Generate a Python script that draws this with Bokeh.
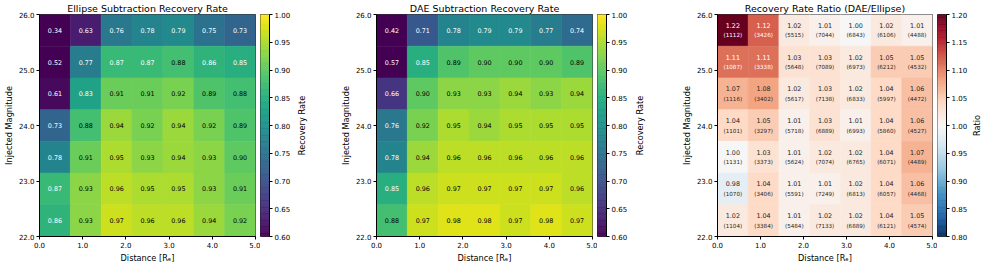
import numpy as np
from bokeh.plotting import figure
from bokeh.models import (ColumnDataSource, LinearColorMapper, FixedTicker,
                          PrintfTickFormatter, Range1d)
from bokeh.layouts import row
from bokeh.embed import file_html
from bokeh.resources import INLINE
from bokeh.palettes import Viridis256
from bokeh.core.properties import value
from bokeh.transform import transform

FONT = "DejaVu Sans"

# ---------------- data ----------------
distance_ticks = [0.0, 1.0, 2.0, 3.0, 4.0, 5.0]
magnitude_ticks = [22.0, 23.0, 24.0, 25.0, 26.0]
dist_range = (0.0, 5.0)
mag_range = (22.0, 26.0)

# rows listed from the top of the chart (faint, 26) to the bottom (bright, 22)
ellipse_rate = [
    [0.34, 0.63, 0.76, 0.78, 0.79, 0.75, 0.73],
    [0.52, 0.77, 0.87, 0.87, 0.88, 0.86, 0.85],
    [0.61, 0.83, 0.91, 0.91, 0.92, 0.89, 0.88],
    [0.73, 0.88, 0.94, 0.92, 0.94, 0.92, 0.89],
    [0.78, 0.91, 0.95, 0.93, 0.94, 0.93, 0.90],
    [0.87, 0.93, 0.96, 0.95, 0.95, 0.93, 0.91],
    [0.86, 0.93, 0.97, 0.96, 0.96, 0.94, 0.92],
]
dae_rate = [
    [0.42, 0.71, 0.78, 0.79, 0.79, 0.77, 0.74],
    [0.57, 0.85, 0.89, 0.90, 0.90, 0.90, 0.89],
    [0.66, 0.90, 0.93, 0.93, 0.94, 0.93, 0.94],
    [0.76, 0.92, 0.95, 0.94, 0.95, 0.95, 0.95],
    [0.78, 0.94, 0.96, 0.96, 0.96, 0.96, 0.96],
    [0.85, 0.96, 0.97, 0.97, 0.97, 0.97, 0.96],
    [0.88, 0.97, 0.98, 0.98, 0.97, 0.98, 0.97],
]
rate_ratio = [
    [1.22, 1.12, 1.02, 1.01, 1.00, 1.02, 1.01],
    [1.11, 1.11, 1.03, 1.03, 1.02, 1.05, 1.05],
    [1.07, 1.08, 1.02, 1.03, 1.02, 1.04, 1.06],
    [1.04, 1.05, 1.01, 1.03, 1.01, 1.04, 1.06],
    [1.00, 1.03, 1.01, 1.02, 1.02, 1.04, 1.07],
    [0.98, 1.04, 1.01, 1.01, 1.02, 1.04, 1.06],
    [1.02, 1.04, 1.01, 1.02, 1.02, 1.04, 1.05],
]
n_injected = [
    [1112, 3426, 5515, 7044, 6843, 6106, 4488],
    [1087, 3338, 5648, 7089, 6973, 6212, 4532],
    [1116, 3402, 5617, 7138, 6833, 5997, 4472],
    [1101, 3297, 5718, 6889, 6993, 5860, 4527],
    [1131, 3373, 5624, 7074, 6765, 6071, 4489],
    [1070, 3406, 5591, 7249, 6813, 6057, 4468],
    [1104, 3384, 5484, 7133, 6889, 6121, 4574],
]
rate_cbar_ticks = [0.60, 0.65, 0.70, 0.75, 0.80, 0.85, 0.90, 0.95, 1.00]
ratio_cbar_ticks = [0.80, 0.85, 0.90, 0.95, 1.00, 1.05, 1.10, 1.15, 1.20]
rate_limits = (0.6, 1.0)
ratio_limits = (0.8, 1.2)

# ---------------- palettes ----------------
rdbu_anchors = ["#053061", "#2166ac", "#4393c3", "#92c5de", "#d1e5f0", "#f7f7f7",
                "#fddbc7", "#f4a582", "#d6604d", "#b2182b", "#67001f"]  # RdBu_r


def interp_palette(anchors, n=256):
    rgb = np.array([[int(h[i:i + 2], 16) for i in (1, 3, 5)] for h in anchors], float)
    pos = np.linspace(0, 1, len(anchors))
    t = np.linspace(0, 1, n)
    out = []
    for tt in t:
        c = [np.interp(tt, pos, rgb[:, k]) for k in range(3)]
        out.append("#%02x%02x%02x" % tuple(int(round(v)) for v in c))
    return out


RdBu_r256 = interp_palette(rdbu_anchors)

FRAME_H = 222
LEFT = 33
GAP = 5          # frame -> colour bar
BAR_W = 11
CB_R = 22        # colour-bar tick labels
LABEL_PX = "8.2px"
TITLE_PX = "9.5px"
TICK_PX = "7px"


def style_title(p, text):
    p.title.text = text
    p.title.align = "center"
    p.title.text_font = FONT
    p.title.text_font_size = TITLE_PX
    p.title.text_font_style = "normal"
    p.title.text_color = "black"
    p.title.standoff = 1


def style_axis(ax):
    ax.axis_line_color = "black"
    ax.major_tick_line_color = "black"
    ax.minor_tick_line_color = None
    ax.major_tick_in = 0
    ax.major_tick_out = 3
    ax.major_label_text_font = FONT
    ax.major_label_text_font_size = TICK_PX
    ax.major_label_text_color = "black"
    ax.major_label_standoff = 2
    ax.axis_label_text_font = FONT
    ax.axis_label_text_font_size = LABEL_PX
    ax.axis_label_text_font_style = "normal"
    ax.axis_label_text_color = "black"
    ax.axis_label_standoff = 2


def make_panel(values, title, mapper, text_color_fn, frame_w, counts=None):
    n_rows = len(values)
    n_cols = len(values[0])
    dx = (dist_range[1] - dist_range[0]) / n_cols
    dy = (mag_range[1] - mag_range[0]) / n_rows
    xs, ys, vs, txt, cnt, col = [], [], [], [], [], []
    for j, rv in enumerate(values):
        for i, v in enumerate(rv):
            xs.append(dist_range[0] + (i + 0.5) * dx)
            ys.append(mag_range[1] - (j + 0.5) * dy)
            vs.append(v)
            txt.append("%.2f" % v)
            col.append(text_color_fn(v))
            if counts is not None:
                cnt.append("(%d)" % counts[j][i])
    data = dict(x=xs, y=ys, v=vs, t=txt, c=col)
    if counts is not None:
        data["n"] = cnt
    src = ColumnDataSource(data)

    p = figure(width=LEFT + frame_w + GAP, frame_height=FRAME_H,
               x_range=Range1d(*dist_range), y_range=Range1d(*mag_range),
               output_backend="svg", toolbar_location=None,
               min_border_left=LEFT, min_border_right=GAP,
               min_border_top=0, min_border_bottom=0)
    p.background_fill_color = "white"
    p.border_fill_color = "white"
    p.outline_line_color = "black"
    p.outline_line_width = 0.8
    p.xgrid.visible = False
    p.ygrid.visible = False

    p.rect(x="x", y="y", width=dx, height=dy, source=src,
           fill_color=transform("v", mapper), line_color=transform("v", mapper),
           line_width=0.6)

    if counts is None:
        p.text(x="x", y="y", text="t", source=src, text_color="c",
               text_font=value(FONT), text_font_size=value("6.4px"),
               text_align="center", text_baseline="middle")
    else:
        p.text(x="x", y="y", text="t", source=src, text_color="c",
               text_font=value(FONT), text_font_size=value("6.4px"),
               text_align="center", text_baseline="middle", y_offset=-5)
        p.text(x="x", y="y", text="n", source=src, text_color="c",
               text_font=value(FONT), text_font_size=value("5.6px"),
               text_align="center", text_baseline="middle", y_offset=5)

    style_title(p, title)
    for ax in (p.xaxis[0], p.yaxis[0]):
        style_axis(ax)
        ax.formatter = PrintfTickFormatter(format="%.1f")
    p.xaxis.ticker = FixedTicker(ticks=distance_ticks)
    p.yaxis.ticker = FixedTicker(ticks=magnitude_ticks)
    p.xaxis.axis_label = "Distance [Rₑ]"
    p.yaxis.axis_label = "Injected Magnitude"
    return p


def make_cbar(palette, limits, ticks):
    lo, hi = limits
    edges = np.linspace(lo, hi, len(palette) + 1)
    q = figure(width=BAR_W + CB_R, frame_height=FRAME_H,
               x_range=Range1d(0, 1), y_range=Range1d(lo, hi),
               output_backend="svg", toolbar_location=None,
               x_axis_location=None, y_axis_location="right",
               min_border_left=0, min_border_right=CB_R,
               min_border_top=0, min_border_bottom=8)
    style_title(q, " ")
    q.background_fill_color = "white"
    q.border_fill_color = "white"
    q.xgrid.visible = False
    q.ygrid.visible = False
    q.quad(left=0, right=1, bottom=edges[:-1], top=edges[1:],
           fill_color=palette, line_color=palette, line_width=0.5)
    q.outline_line_color = "black"
    q.outline_line_width = 0.8
    ax = q.yaxis[0]
    style_axis(ax)
    ax.ticker = FixedTicker(ticks=ticks)
    ax.formatter = PrintfTickFormatter(format="%.2f")
    return q


def make_cbar_label(text, fig_w, lead):
    """Narrow figure holding the colour-bar label (left axis label reads bottom-to-top)."""
    q = figure(width=fig_w, frame_height=FRAME_H,
               x_range=Range1d(0, 1), y_range=Range1d(*mag_range),
               output_backend="svg", toolbar_location=None,
               x_axis_location=None, min_border_left=lead, min_border_right=0,
               min_border_top=0, min_border_bottom=0)
    style_title(q, " ")
    q.outline_line_color = None
    q.background_fill_color = "white"
    q.border_fill_color = "white"
    q.xgrid.visible = False
    q.ygrid.visible = False
    ax = q.yaxis[0]
    ax.ticker = FixedTicker(ticks=[])
    ax.axis_line_color = None
    ax.major_tick_line_color = None
    ax.minor_tick_line_color = None
    ax.major_tick_in = 0
    ax.major_tick_out = 0
    ax.major_label_text_font_size = "0px"
    ax.major_label_standoff = 0
    ax.axis_label = text
    ax.axis_label_standoff = 0
    ax.axis_label_text_font = FONT
    ax.axis_label_text_font_size = LABEL_PX
    ax.axis_label_text_font_style = "normal"
    ax.axis_label_text_color = "black"
    return q


rate_mapper = LinearColorMapper(palette=Viridis256, low=rate_limits[0], high=rate_limits[1])
ratio_mapper = LinearColorMapper(palette=RdBu_r256, low=ratio_limits[0], high=ratio_limits[1])

p1 = make_panel(ellipse_rate, "Ellipse Subtraction Recovery Rate", rate_mapper,
                lambda v: "white" if v < 0.875 else "black", 222)
p2 = make_panel(dae_rate, "DAE Subtraction Recovery Rate", rate_mapper,
                lambda v: "white" if v < 0.875 else "black", 222)
p3 = make_panel(rate_ratio, "Recovery Rate Ratio (DAE/Ellipse)", ratio_mapper,
                lambda v: "white" if v > 1.095 else "#262626", 221, counts=n_injected)
c1 = make_cbar(Viridis256, rate_limits, rate_cbar_ticks)
c2 = make_cbar(Viridis256, rate_limits, rate_cbar_ticks)
c3 = make_cbar(RdBu_r256, ratio_limits, ratio_cbar_ticks)
l1 = make_cbar_label("Recovery Rate", 44, 10)
l2 = make_cbar_label("Recovery Rate", 48, 14)
l3 = make_cbar_label("Ratio", 11, 10)

layout = row(p1, c1, l1, p2, c2, l2, p3, c3, l3)
open("out.html", "w").write(file_html(layout, INLINE))
